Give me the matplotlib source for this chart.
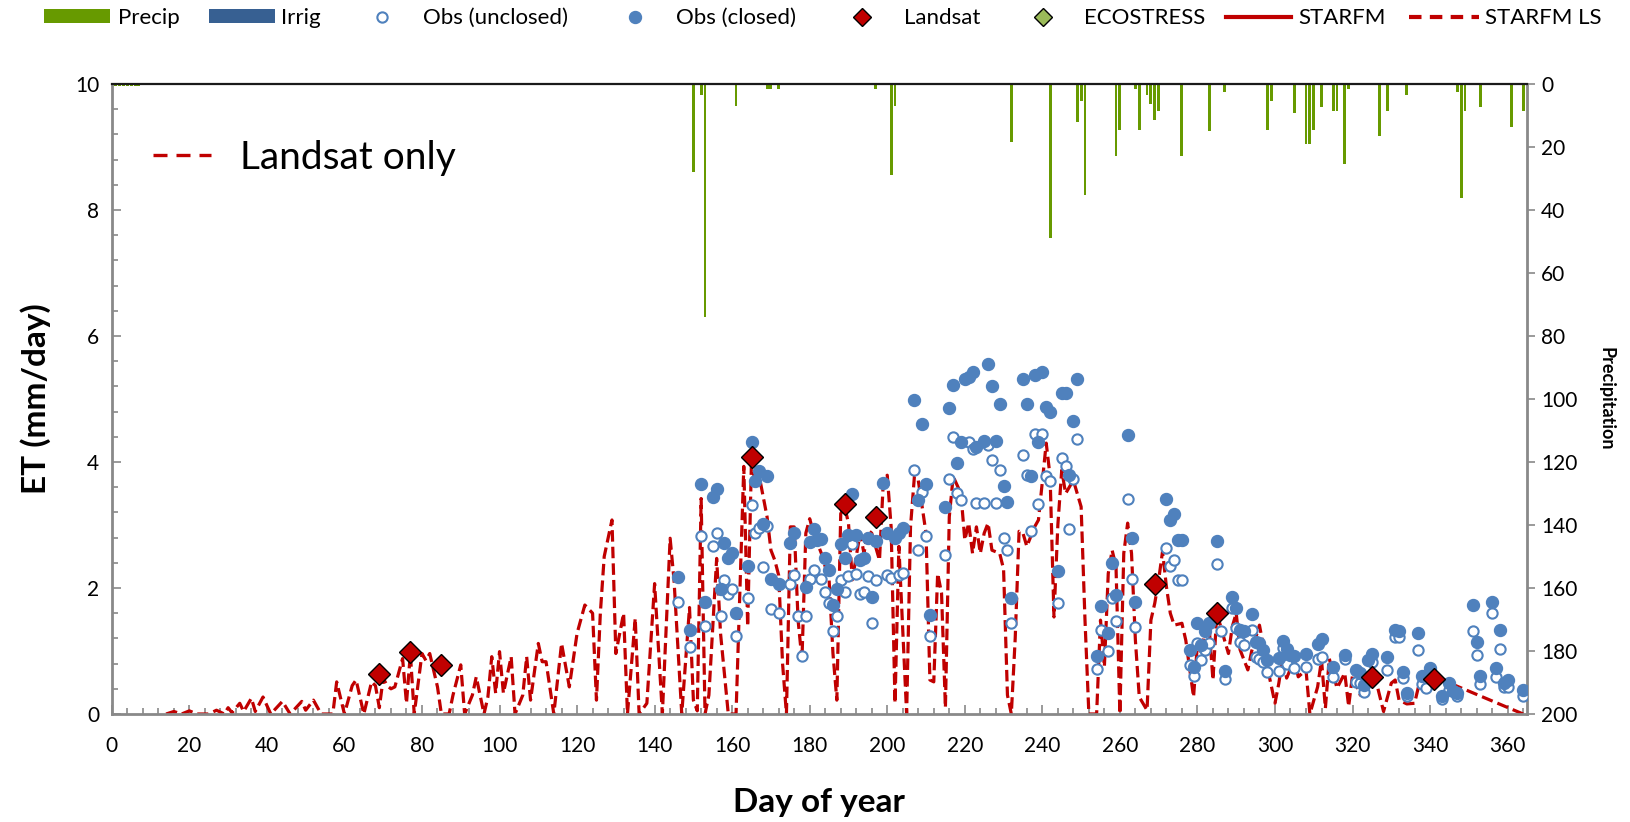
import matplotlib.pyplot as plt
from matplotlib.lines import Line2D
from matplotlib.patches import Patch
from matplotlib.ticker import MultipleLocator

plt.rcParams['font.family'] = 'Lato'

# daily precipitation (mm), right axis, hanging from the top
precip_days = [1, 2, 3, 4, 5, 6, 7, 150, 152, 153, 161, 169, 170, 172, 197, 201, 202,
               232, 242, 249, 250, 251, 259, 260, 264, 265, 267, 268, 269, 270, 276,
               283, 287, 298, 299, 305, 308, 309, 310, 312, 315, 316, 318, 319, 327,
               329, 334, 347, 348, 349, 353, 361, 364]
precip_mm = [0.5, 0.5, 0.5, 0.5, 0.5, 0.5, 0.5, 28, 3.5, 74, 7, 1.5, 1.5, 1.5, 1.5, 29, 7,
             18.5, 49, 12.2, 5.4, 35.2, 23, 14.6, 1.5, 14.6, 3.5, 6.5, 11.3, 8.5, 23,
             15, 2.4, 14.6, 5.4, 9.3, 19, 19, 14.6, 7.2, 8.5, 8.5, 25.5, 1.5, 16.4,
             8.5, 3.5, 2.4, 36.3, 8.5, 7.2, 13.5, 8.5]

# flux tower observations, energy balance closed
closed_days = [146, 149, 152, 153, 155, 156, 157, 158, 159, 160, 161, 164, 165, 166, 167,
               168, 169, 170, 172, 175, 176, 179, 180, 181, 182, 183, 184, 185, 186, 187,
               188, 189, 190, 191, 192, 193, 194, 195, 196, 197, 199, 200, 202, 203, 204,
               207, 208, 209, 210, 211, 215, 216, 217, 218, 219, 220, 221, 222, 223, 225,
               226, 227, 228, 229, 230, 231, 232, 235, 236, 237, 238, 239, 240, 241, 242,
               244, 245, 246, 247, 248, 249, 254, 255, 257, 258, 259, 262, 263, 264, 272,
               273, 274, 275, 276, 278, 279, 280, 281, 282, 283, 285, 287, 289, 290, 291,
               292, 294, 295, 296, 297, 298, 301, 302, 303, 304, 305, 308, 311, 312, 315,
               318, 321, 322, 323, 324, 325, 329, 331, 332, 333, 334, 337, 338, 340, 343,
               345, 346, 347, 351, 352, 353, 356, 357, 358, 359, 360, 364]
closed_et = [2.18, 1.34, 3.65, 1.78, 3.45, 3.57, 1.98, 2.71, 2.47, 2.56, 1.61, 2.35, 4.31, 3.70, 3.85,
             3.02, 3.77, 2.15, 2.06, 2.71, 2.88, 2.02, 2.73, 2.93, 2.76, 2.77, 2.47, 2.28, 1.73, 1.99,
             2.70, 2.47, 2.84, 3.50, 2.84, 2.45, 2.48, 2.80, 1.86, 2.75, 3.67, 2.87, 2.79, 2.88, 2.95,
             4.99, 3.39, 4.60, 3.65, 1.57, 3.28, 4.85, 5.23, 3.99, 4.32, 5.31, 5.35, 5.43, 4.24, 4.34,
             5.55, 5.20, 4.34, 4.92, 3.62, 3.37, 1.84, 5.31, 4.92, 3.77, 5.38, 4.31, 5.43, 4.88, 4.80,
             2.27, 5.09, 5.09, 3.79, 4.65, 5.31, 0.92, 1.72, 1.29, 2.39, 1.89, 4.43, 2.79, 1.78, 3.42,
             3.08, 3.17, 2.76, 2.76, 1.02, 0.75, 1.44, 1.10, 1.31, 1.44, 2.74, 0.69, 1.86, 1.68, 1.33,
             1.31, 1.59, 1.15, 1.12, 1.02, 0.85, 0.89, 1.16, 1.03, 0.94, 0.92, 0.96, 1.11, 1.19, 0.75,
             0.94, 0.70, 0.65, 0.46, 0.86, 0.96, 0.90, 1.33, 1.31, 0.67, 0.33, 1.29, 0.60, 0.73, 0.28,
             0.49, 0.36, 0.33, 1.73, 1.15, 0.60, 1.78, 0.73, 1.34, 0.50, 0.54, 0.38]

# flux tower observations, unclosed
unclosed_days = [146, 149, 152, 153, 155, 156, 157, 158, 159, 160, 161, 164, 165, 166, 167,
                 168, 169, 170, 172, 175, 176, 177, 178, 179, 180, 181, 183, 184, 185, 186,
                 187, 188, 189, 190, 191, 192, 193, 194, 195, 196, 197, 200, 201, 203, 204,
                 207, 208, 209, 210, 211, 215, 216, 217, 218, 219, 221, 222, 223, 225, 226,
                 227, 228, 229, 230, 231, 232, 235, 236, 237, 238, 239, 240, 241, 242, 244,
                 245, 246, 247, 248, 249, 254, 255, 257, 258, 259, 262, 263, 264, 272, 273,
                 274, 275, 276, 278, 279, 280, 281, 282, 283, 285, 286, 287, 289, 290, 291,
                 292, 294, 295, 296, 297, 298, 301, 302, 303, 305, 308, 311, 312, 315, 318,
                 321, 322, 323, 325, 329, 331, 332, 333, 334, 337, 338, 339, 343, 345, 347,
                 351, 352, 353, 356, 357, 358, 359, 360, 364]
unclosed_et = [1.78, 1.06, 2.82, 1.39, 2.67, 2.88, 1.55, 2.12, 1.90, 1.98, 1.24, 1.84, 3.31, 2.87, 2.96,
               2.33, 2.99, 1.66, 1.61, 2.06, 2.21, 1.55, 0.92, 1.55, 2.14, 2.28, 2.15, 1.93, 1.76, 1.32,
               1.55, 2.12, 1.93, 2.19, 2.70, 2.22, 1.90, 1.93, 2.19, 1.44, 2.13, 2.21, 2.16, 2.21, 2.24,
               3.87, 2.61, 3.53, 2.82, 1.24, 2.52, 3.73, 4.39, 3.51, 3.40, 4.31, 4.20, 3.35, 3.35, 4.27,
               4.03, 3.35, 3.87, 2.79, 2.61, 1.44, 4.11, 3.79, 2.90, 4.45, 3.33, 4.45, 3.77, 3.70, 1.76,
               4.06, 3.94, 2.93, 3.73, 4.36, 0.71, 1.34, 1.00, 1.84, 1.47, 3.42, 2.15, 1.38, 2.64, 2.35,
               2.45, 2.13, 2.13, 0.78, 0.60, 1.13, 0.86, 1.02, 1.13, 2.38, 1.32, 0.55, 1.68, 1.36, 1.15,
               1.10, 1.34, 0.91, 0.88, 0.83, 0.66, 0.69, 1.04, 0.80, 0.73, 0.75, 0.87, 0.91, 0.58, 0.88,
               0.51, 0.50, 0.35, 0.82, 0.70, 1.23, 1.23, 0.57, 0.29, 1.01, 0.47, 0.41, 0.24, 0.38, 0.28,
               1.32, 0.94, 0.48, 1.61, 0.58, 1.03, 0.43, 0.43, 0.28]

# Landsat overpass ET
landsat_days = [69, 77, 85, 165, 189, 197, 269, 285, 325, 341]
landsat_et = [0.63, 0.99, 0.78, 4.08, 3.34, 3.13, 2.07, 1.61, 0.58, 0.55]

# STARFM fused ET using Landsat only
ls_days = [14, 16, 18, 20, 22, 25, 27, 29, 30, 31, 33, 34, 36, 37, 39, 41, 44, 46, 49, 50,
           52, 54, 57, 58, 60, 62, 63, 65, 67, 68, 69, 70, 71, 72, 73, 75, 76, 77, 78, 80,
           81, 82, 84, 85, 87, 88, 90, 91, 93, 94, 96, 97, 98, 99, 100, 101, 103, 104, 106, 107,
           108, 110, 111, 112, 114, 116, 118, 120, 122, 124, 125, 126, 127, 129, 130, 132, 133, 135, 136, 138,
           140, 142, 144, 145, 147, 149, 150, 151, 152, 153, 154, 156, 157, 159, 161, 163, 164, 165, 166, 167,
           169, 170, 171, 172, 173, 174, 175, 176, 177, 178, 179, 180, 181, 183, 185, 186, 187, 188, 189, 190,
           191, 193, 194, 195, 196, 198, 199, 200, 201, 202, 203, 205, 206, 207, 208, 210, 211, 212, 213, 214,
           215, 216, 217, 219, 220, 221, 222, 223, 224, 225, 226, 227, 229, 230, 231, 232, 233, 234, 235, 236,
           238, 239, 241, 242, 243, 244, 245, 246, 248, 250, 251, 252, 254, 255, 256, 257, 258, 259, 260, 261,
           262, 263, 264, 265, 267, 268, 269, 270, 271, 272, 273, 274, 276, 277, 279, 280, 281, 282, 283, 284,
           285, 286, 287, 288, 289, 290, 291, 293, 294, 296, 298, 300, 301, 302, 303, 305, 306, 308, 309, 311,
           312, 313, 314, 316, 318, 319, 320, 322, 324, 326, 328, 330, 331, 332, 334, 336, 337, 340, 342, 364]
ls_et = [0.00, 0.04, 0.00, 0.05, 0.00, 0.00, 0.06, 0.00, 0.10, 0.02, 0.17, 0.04, 0.25, 0.04, 0.27, 0.00, 0.20, 0.00, 0.20, 0.06,
         0.22, 0.00, 0.00, 0.51, 0.00, 0.45, 0.54, 0.00, 0.51, 0.45, 0.10, 0.57, 0.45, 0.40, 0.43, 0.88, 0.17, 0.96, 0.00, 0.96,
         0.85, 0.96, 0.43, 0.00, 0.00, 0.30, 0.78, 0.00, 0.30, 0.59, 0.00, 0.27, 0.91, 0.33, 0.99, 0.33, 0.91, 0.00, 0.30, 0.91,
         0.22, 1.12, 0.83, 0.83, 0.00, 1.12, 0.43, 1.28, 1.73, 1.60, 0.22, 1.60, 2.50, 3.08, 0.96, 1.60, 0.00, 1.52, 0.00, 0.17,
         2.07, 0.00, 2.79, 2.13, 0.00, 1.69, 0.22, 0.05, 3.42, 0.00, 0.30, 2.47, 1.28, 0.00, 0.00, 3.93, 1.39, 4.08, 3.60, 3.77,
         3.13, 2.60, 2.44, 2.20, 0.80, 0.00, 2.97, 2.97, 1.49, 0.86, 2.87, 3.10, 2.87, 2.55, 2.13, 0.96, 0.22, 3.18, 3.29, 3.03,
         2.13, 2.87, 2.55, 2.92, 2.87, 2.44, 3.71, 3.79, 2.97, 0.17, 2.66, 0.00, 2.97, 3.77, 3.71, 2.87, 0.54, 0.51, 2.23, 1.92,
         0.10, 3.13, 3.77, 3.50, 2.76, 3.03, 2.55, 2.97, 2.55, 2.87, 3.03, 2.60, 2.55, 2.30, 0.30, 0.00, 1.20, 2.90, 2.87, 2.66,
         2.97, 3.08, 4.30, 3.77, 1.54, 3.00, 3.87, 3.50, 3.71, 3.29, 1.49, 0.00, 0.00, 1.49, 0.75, 2.23, 2.60, 2.34, 0.00, 2.55,
         3.03, 2.55, 1.17, 0.27, 0.06, 1.49, 1.76, 2.13, 2.58, 2.02, 1.60, 1.41, 1.44, 1.17, 0.27, 1.12, 0.96, 1.39, 1.39, 0.54,
         1.60, 1.39, 1.17, 0.96, 1.39, 1.60, 1.02, 0.70, 1.00, 1.41, 0.75, 0.17, 0.49, 0.91, 0.57, 0.86, 0.59, 0.70, 0.00, 0.43,
         0.86, 0.09, 0.88, 0.41, 0.65, 0.12, 0.62, 0.30, 0.49, 0.54, 0.04, 0.49, 0.54, 0.22, 0.16, 0.17, 0.43, 0.59, 0.57, 0.00]

green = '#679a00'
blue = '#4f81bd'
red = '#c00000'
gray = '#898989'

W, H = 1630, 822
fig = plt.figure(figsize=(W / 100, H / 100), dpi=100)
ax = fig.add_axes([111.8 / W, 1 - 714 / H, (1527 - 111.8) / W, (714 - 84) / H])
ax2 = ax.twinx()
ax.set_zorder(ax2.get_zorder() + 1)
ax.patch.set_visible(False)

# precipitation bars on the inverted right axis
ax2.bar(precip_days, precip_mm, width=0.75, color=green, linewidth=0)
ax2.set_ylim(200, 0)

ax.plot(ls_days, ls_et, color=red, lw=2.3, ls=(0, (3.6, 1.6)), zorder=2)
ax.plot(unclosed_days, unclosed_et, 'o', ms=7.4, mfc='white', mec=blue, mew=1.5, zorder=3)
ax.plot(closed_days, closed_et, 'o', ms=8.6, color=blue, mec=blue, zorder=4)
ax.plot(landsat_days, landsat_et, 'D', ms=11, mfc=red, mec='black', mew=1.0, zorder=5)

ax.set_xlim(0, 365)
ax.set_ylim(0, 10)
ax.xaxis.set_major_locator(MultipleLocator(20))
ax.xaxis.set_minor_locator(MultipleLocator(4))
ax.yaxis.set_major_locator(MultipleLocator(2))
ax.yaxis.set_minor_locator(MultipleLocator(0.4))
ax.tick_params(axis='x', which='major', direction='in', length=6.5, width=1.2, color=gray,
               labelsize=15, pad=16, top=False)
ax.tick_params(axis='x', which='minor', direction='in', length=4, width=1.2, color=gray, top=False)
ax.tick_params(axis='y', which='major', direction='in', length=6.5, width=1.2, color=gray,
               labelsize=15, pad=9, right=False)
ax.tick_params(axis='y', which='minor', direction='in', length=4, width=1.2, color=gray, right=False)

ax2.yaxis.set_major_locator(MultipleLocator(20))
ax2.tick_params(axis='y', direction='out', length=6, width=1.2, color=gray, labelsize=15, pad=4)

for s in ['left', 'bottom']:
    ax.spines[s].set_color(gray)
    ax.spines[s].set_linewidth(2)
ax.spines['right'].set_visible(False)
ax.spines['top'].set_color('#1a1a1a')
ax.spines['top'].set_linewidth(1.6)
ax2.spines['right'].set_color(gray)
ax2.spines['right'].set_linewidth(2)
for s in ['left', 'bottom', 'top']:
    ax2.spines[s].set_visible(False)

ax.set_xlabel('Day of year', fontsize=24, fontweight='bold')
ax.xaxis.set_label_coords(0.5, -0.14)
ax.xaxis.label.set_va('center')
ax.set_ylabel('ET (mm/day)', fontsize=24, fontweight='bold')
ax.yaxis.set_label_coords(-0.0536, 0.5)
ax.yaxis.label.set_va('center')
ax2.set_ylabel('Precipitation', fontsize=13, fontweight='bold', rotation=270)
ax2.yaxis.set_label_coords(1.0558, 0.5)
ax2.yaxis.label.set_va('center')

# "Landsat only" note inside the plot
ax.legend([Line2D([], [], color=red, lw=2.4, ls=(0, (4.2, 2.7)))], ['Landsat only'],
          loc='center left', bbox_to_anchor=(0.029, 0.8825), frameon=False, fontsize=28,
          handlelength=1.5, handletextpad=0.75, borderpad=0, borderaxespad=0)

# legend row across the top
def key(handle, label, x_px, hl, pad):
    fig.legend([handle], [label], loc='center left', bbox_to_anchor=(x_px / W, 1 - 18 / H),
               frameon=False, fontsize=16, handlelength=hl, handleheight=0.6,
               handletextpad=pad, borderpad=0, borderaxespad=0)

key(Patch(facecolor=green), 'Precip', 44, 2.97, 0.36)
key(Patch(facecolor='#376092'), 'Irrig', 209, 2.97, 0.28)
key(Line2D([], [], ls='none', marker='o', ms=7.4, mfc='white', mec=blue, mew=1.5),
    'Obs (unclosed)', 371, 1.0, 1.36)
key(Line2D([], [], ls='none', marker='o', ms=8.6, color=blue), 'Obs (closed)', 624, 1.0, 1.36)
key(Line2D([], [], ls='none', marker='D', ms=9.2, mfc=red, mec='black', mew=1.0),
    'Landsat', 851, 1.0, 1.4)
key(Line2D([], [], ls='none', marker='D', ms=9.2, mfc='#9bbb59', mec='black', mew=1.0),
    'ECOSTRESS', 1032, 1.0, 1.32)
key(Line2D([], [], color=red, lw=3), 'STARFM', 1226, 2.93, 0.33)
key(Line2D([], [], color=red, lw=3, ls=(0, (3.0, 2.0))), 'STARFM LS', 1409, 3.15, 0.25)

fig.savefig('out.png', dpi=100)
